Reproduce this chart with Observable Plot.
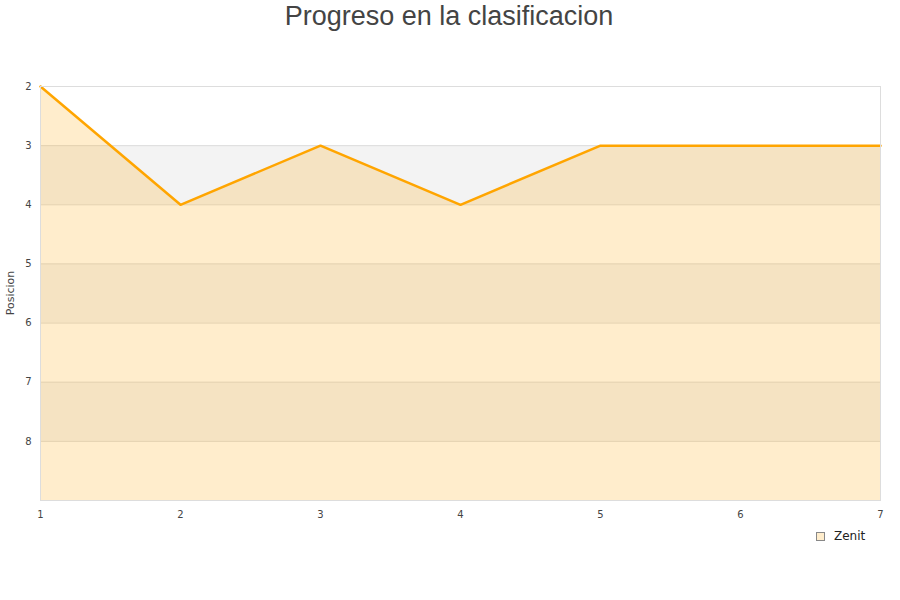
<!DOCTYPE html>
<html><head><meta charset="utf-8">
<script src="https://cdn.jsdelivr.net/npm/d3@7"></script>
<script src="https://cdn.jsdelivr.net/npm/@observablehq/plot@0.6"></script>
<style>body{margin:0;background:#fff;font-family:"DejaVu Sans",sans-serif;}</style>
</head><body><div id="chart"></div>
<script>
const jornadas = [1, 2, 3, 4, 5, 6, 7];
const posiciones = [2, 4, 3, 4, 3, 3, 3];
const yTicks = [2, 3, 4, 5, 6, 7, 8];
const bandStarts = [3, 5, 7];
const equipo = "Zenit";
const titulo = "Progreso en la clasificacion";
const yLabel = "Posicion";

const data = jornadas.map((j, i) => ({jornada: j, pos: posiciones[i]}));
const yMax = 9;
const bands = bandStarts.map(b => ({x1: jornadas[0], x2: jornadas[jornadas.length - 1], y1: b, y2: b + 1}));

const plot = Plot.plot({
  width: 900, height: 600,
  marginTop: 86, marginBottom: 100, marginLeft: 40, marginRight: 20,
  style: {fontFamily: "DejaVu Sans, sans-serif", fontSize: "10px", color: "#444", background: "#fff"},
  x: {domain: [1, 7], ticks: jornadas, tickSize: 0, tickPadding: 10, label: null, tickFormat: d => d},
  y: {domain: [2, yMax], reverse: true, ticks: yTicks, tickSize: 0, tickPadding: 9, label: null, tickFormat: d => d},
  marks: [
    Plot.rect(bands, {x1: "x1", x2: "x2", y1: "y1", y2: "y2", fill: "#f3f3f3"}),
    Plot.ruleY(yTicks.slice(1), {stroke: "#ddd", strokeWidth: 1}),
    Plot.areaY(data, {x: "jornada", y1: () => yMax, y2: "pos", fill: "#ffa500", fillOpacity: 0.2}),
    Plot.line(data, {x: "jornada", y: "pos", stroke: "#ffa500", strokeWidth: 2.5}),
    Plot.frame({stroke: "#ddd"})
  ]
});

const svg = d3.select(plot);
svg.append("text").attr("x", 449).attr("y", 25).attr("text-anchor", "middle")
  .attr("font-size", 27).attr("fill", "#444").attr("font-family", "Liberation Sans, Arial, sans-serif").text(titulo);
svg.append("text").attr("transform", "translate(14,293) rotate(-90)").attr("text-anchor", "middle")
  .attr("font-size", 11).attr("fill", "#444").text(yLabel);
svg.append("rect").attr("x", 816.5).attr("y", 532.5).attr("width", 8).attr("height", 8)
  .attr("fill", "#ffedcc").attr("stroke", "#888");
svg.append("text").attr("x", 834).attr("y", 540).attr("text-anchor", "start")
  .attr("font-size", 12).attr("fill", "#222").text(equipo);

document.getElementById("chart").appendChild(plot);
</script></body></html>
